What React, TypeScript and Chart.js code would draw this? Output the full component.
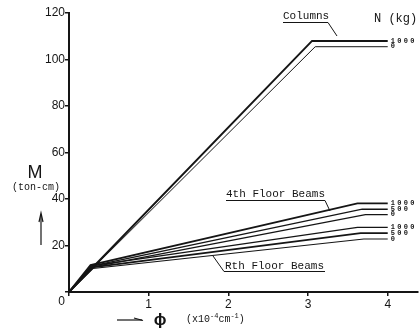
import React, { useEffect, useRef } from "react";
import { Chart, registerables } from "chart.js";
Chart.register(...registerables);

// Curvature phi (x10^-4 cm^-1) and moment M (ton-cm)
const colPhi1000 = [0, 3.05, 4.0];
const colM1000 = [0, 108, 108];
const colPhi0 = [0, 3.09, 4.0];
const colM0 = [0, 105.5, 105.5];

const b4Phi1000 = [0, 0.27, 3.62, 4.0];
const b4M1000 = [0, 11.6, 38.1, 38.1];
const b4Phi500 = [0, 0.28, 3.68, 4.0];
const b4M500 = [0, 11.1, 35.6, 35.6];
const b4Phi0 = [0, 0.29, 3.72, 4.0];
const b4M0 = [0, 10.7, 33.3, 33.3];

const bRPhi1000 = [0, 0.28, 3.62, 4.0];
const bRM1000 = [0, 11.2, 27.8, 27.8];
const bRPhi500 = [0, 0.29, 3.66, 4.0];
const bRM500 = [0, 10.6, 25.3, 25.3];
const bRPhi0 = [0, 0.3, 3.7, 4.0];
const bRM0 = [0, 10.1, 22.8, 22.8];

const xTicks = [0, 1, 2, 3, 4];
const yTicks = [0, 20, 40, 60, 80, 100, 120];
const loadLabels = ["1000", "500", "0"];

const INK = "#151515";
const MONO = "'Liberation Mono', 'DejaVu Sans Mono', monospace";
const SANS = "'Liberation Sans', Arial, sans-serif";

function pts(xs: number[], ys: number[]) {
  return xs.map((x, i) => ({ x, y: ys[i] }));
}

const annotations = {
  id: "annotations",
  afterDraw(chart: any) {
    const ctx = chart.ctx as CanvasRenderingContext2D;
    const xs = chart.scales.x;
    const ys = chart.scales.y;
    const ca = chart.chartArea;
    ctx.save();
    ctx.fillStyle = INK;
    ctx.strokeStyle = INK;

    // origin "0"
    ctx.font = `12px ${SANS}`;
    ctx.textAlign = "right";
    ctx.textBaseline = "middle";
    ctx.fillText("0", ca.left - 4, ca.bottom + 10);

    // Column / beam end labels (spaced digits)
    ctx.font = `bold 7px ${MONO}`;
    ctx.textAlign = "left";
    ctx.textBaseline = "middle";
    const lx = xs.getPixelForValue(4.0) + 3;
    const small = (t: string, m: number) => {
      const yy = ys.getPixelForValue(m);
      let xx = lx;
      for (const ch of t) {
        ctx.fillText(ch, xx, yy);
        xx += 6.5;
      }
    };
    small(loadLabels[0], colM1000[2]);
    small(loadLabels[2], colM0[2]);
    small(loadLabels[0], b4M1000[3]);
    small(loadLabels[1], b4M500[3]);
    small(loadLabels[2], b4M0[3]);
    small(loadLabels[0], bRM1000[3]);
    small(loadLabels[1], bRM500[3]);
    small(loadLabels[2], bRM0[3]);

    // N (kg)
    ctx.font = `12px ${MONO}`;
    ctx.textBaseline = "alphabetic";
    ctx.fillText("N (kg)", 374, 22);

    // Columns
    ctx.font = `11px ${MONO}`;
    ctx.fillText("Columns", 283, 19);
    ctx.lineWidth = 1;
    ctx.beginPath();
    ctx.moveTo(283, 22.5);
    ctx.lineTo(328, 22.5);
    ctx.lineTo(337, 36);
    ctx.stroke();

    // 4th Floor Beams
    ctx.fillText("4th Floor Beams", 226, 197);
    ctx.beginPath();
    ctx.moveTo(226, 200.5);
    ctx.lineTo(325, 200.5);
    ctx.lineTo(330, 211);
    ctx.stroke();

    // Rth Floor Beams
    ctx.fillText("Rth Floor Beams", 225, 269);
    ctx.beginPath();
    ctx.moveTo(213, 256);
    ctx.lineTo(224, 271.5);
    ctx.lineTo(325, 271.5);
    ctx.stroke();

    // Y title
    ctx.font = `18px ${SANS}`;
    ctx.textAlign = "center";
    ctx.fillText("M", 35, 178);
    ctx.font = `10px ${MONO}`;
    ctx.fillText("(ton-cm)", 36, 190);
    ctx.lineWidth = 1.2;
    ctx.beginPath();
    ctx.moveTo(41, 245);
    ctx.lineTo(41, 215);
    ctx.stroke();
    ctx.beginPath();
    ctx.moveTo(39, 222);
    ctx.lineTo(41, 213);
    ctx.lineTo(43, 222);
    ctx.stroke();

    // X title
    ctx.lineWidth = 1.2;
    ctx.beginPath();
    ctx.moveTo(117, 320);
    ctx.lineTo(142, 320);
    ctx.stroke();
    ctx.beginPath();
    ctx.moveTo(134, 318);
    ctx.lineTo(143, 320.5);
    ctx.stroke();
    ctx.font = `bold 17px ${SANS}`;
    ctx.textAlign = "center";
    ctx.textBaseline = "middle";
    ctx.fillText("\u03D5", 160, 320);
    ctx.textAlign = "left";
    let x = 186;
    const y = 322;
    ctx.textBaseline = "alphabetic";
    const put = (t: string, sz: number, dy: number) => {
      ctx.font = `${sz}px ${MONO}`;
      ctx.fillText(t, x, y + dy);
      x += ctx.measureText(t).width;
    };
    put("(x10", 10, 0);
    put("-4", 7, -4);
    put("cm", 10, 0);
    put("-1", 7, -4);
    put(")", 10, 0);

    ctx.restore();
  },
};

export default function App() {
  const ref = useRef<HTMLCanvasElement>(null);
  useEffect(() => {
    if (!ref.current) return;
    const line = (data: any, w: number) => ({
      data,
      borderColor: INK,
      borderWidth: w,
      pointRadius: 0,
      tension: 0,
      fill: false,
    });
    const chart = new Chart(ref.current, {
      type: "line",
      data: {
        datasets: [
          line(pts(colPhi1000, colM1000), 2),
          line(pts(colPhi0, colM0), 1),
          line(pts(b4Phi1000, b4M1000), 1.8),
          line(pts(b4Phi500, b4M500), 1.3),
          line(pts(b4Phi0, b4M0), 1.2),
          line(pts(bRPhi1000, bRM1000), 1.3),
          line(pts(bRPhi500, bRM500), 1.8),
          line(pts(bRPhi0, bRM0), 1.2),
        ],
      },
      options: {
        animation: false,
        responsive: true,
        maintainAspectRatio: false,
        layout: { padding: { top: 13, right: 1, left: 0, bottom: 0 } },
        plugins: { legend: { display: false }, tooltip: { enabled: false } },
        scales: {
          x: {
            type: "linear",
            min: 0,
            max: 4.38,
            afterBuildTicks: (s: any) => {
              s.ticks = xTicks.map((v) => ({ value: v }));
            },
            afterFit: (s: any) => {
              s.height = 38;
            },
            grid: { drawOnChartArea: false, drawTicks: true, tickLength: 4, color: INK, lineWidth: 1.5 },
            border: { display: true, color: INK, width: 2 },
            ticks: {
              color: INK,
              font: { family: SANS, size: 12 },
              padding: 1,
              maxRotation: 0,
              callback: (v: any) => (v === 0 ? "" : String(v)),
            },
          },
          y: {
            type: "linear",
            min: 0,
            max: 120,
            afterBuildTicks: (s: any) => {
              s.ticks = yTicks.map((v) => ({ value: v }));
            },
            afterFit: (s: any) => {
              s.width = 69;
            },
            grid: { drawOnChartArea: false, drawTicks: true, tickLength: 4, color: INK, lineWidth: 1.5 },
            border: { display: true, color: INK, width: 2 },
            ticks: {
              color: INK,
              font: { family: SANS, size: 12 },
              padding: 0,
              callback: (v: any) => (v === 0 ? "" : String(v)),
            },
          },
        },
      },
      plugins: [annotations],
    } as any);
    return () => chart.destroy();
  }, []);
  return (
    <div style={{ position: "absolute", left: 0, top: 0, width: 419, height: 330, background: "#fff" }}>
      <canvas ref={ref} />
    </div>
  );
}
